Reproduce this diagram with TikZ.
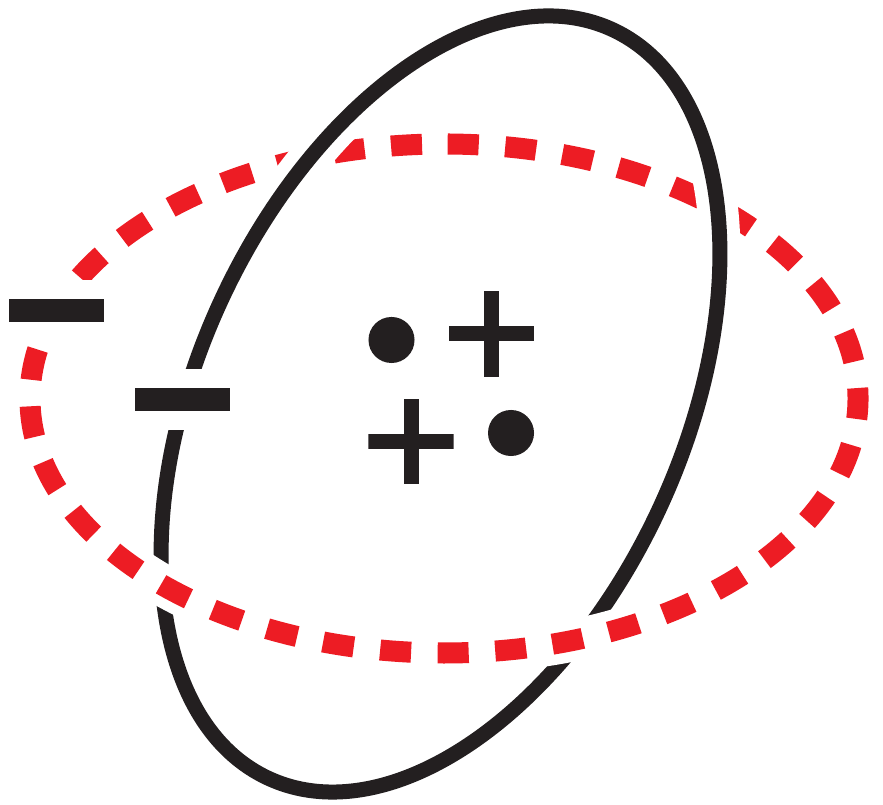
\documentclass[tikz,border=0pt]{standalone}
\usepackage{xcolor}
\definecolor{ink}{HTML}{231F20}
\definecolor{orbred}{HTML}{ED1C24}
\usepackage{tikz}

\begin{document}
\begin{tikzpicture}[
    x=0.01cm, y=0.01cm,
    ring/.style={draw=ink, line width=0.15cm},
    orbit/.style={draw=orbred, line width=0.21cm, dash pattern=on 0.31cm off 0.2657cm, dash phase=0.3557cm},
    halo/.style={draw=white, line width=#1},
    negbar/.style={fill=ink, minimum width=0.95cm, minimum height=0.23cm, inner sep=0pt, preaction={fill=white, draw=white, line width=0.38cm}},
    edot/.style={circle, fill=ink, minimum size=0.46cm, inner sep=0pt},
    posmark/.style={minimum size=0.85cm, inner sep=0pt, path picture={
        \fill[ink] ([xshift=-0.075cm]path picture bounding box.north) rectangle ([xshift=0.075cm]path picture bounding box.south);
        \fill[ink] ([yshift=-0.075cm]path picture bounding box.west) rectangle ([yshift=0.075cm]path picture bounding box.east);}}
]
\useasboundingbox (0,0) rectangle (883,804);

% Tilted ring
\draw[ring, rotate around={65.4:(440.5,400)}] (440.5,400) ellipse [x radius=412, y radius=242.6];

% Red orbit, in front at the bottom
\begin{scope}
  \clip (0,0) rectangle (883,400);
  \draw[halo=0.42cm] (444,660) arc [start angle=90, end angle=450, x radius=414, y radius=254.5];
\end{scope}
\draw[orbit] (444,660) arc [start angle=90, end angle=450, x radius=414, y radius=254.5];

% Ring in front at the top
\begin{scope}
  \clip (0,400) rectangle (883,804);
  \draw[ring, preaction={halo=0.41cm}, rotate around={65.4:(440.5,400)}] (440.5,400) ellipse [x radius=412, y radius=242.6];
\end{scope}

% Charges
\node[negbar] (negA) at (56.8,493.5) {};
\node[negbar] (negB) at (182.5,404.5) {};
\node[edot] (dotA) at (391.5,464) {};
\node[edot] (dotB) at (511,371) {};
\node[posmark] (posA) at (491.5,470) {};
\node[posmark] (posB) at (411,362.5) {};

\end{tikzpicture}
\end{document}
